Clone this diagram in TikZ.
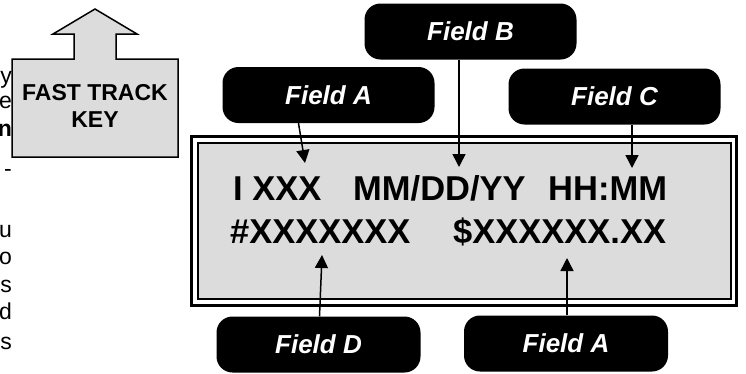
\documentclass[tikz,border=0pt]{standalone}
\usepackage{fontspec}
\setmainfont{Liberation Sans}
\usetikzlibrary{positioning}
\usetikzlibrary{arrows.meta}

\definecolor{lcdgray}{HTML}{DCDCDC}

\tikzset{
    field/.style = {rectangle, rounded corners = 16pt, fill = black, text = white,
        minimum width = 212pt, minimum height = 56pt, inner sep = 0pt,
        font = \fontsize{26}{26}\selectfont\bfseries\itshape},
    lcd/.style = {anchor = base west, inner sep = 0pt,
        font = \fontsize{34.5}{34.5}\selectfont\bfseries},
    pointer/.style = {-{Triangle[width = 13pt, length = 13pt]}, line width = 1.5pt},
    cut/.style = {anchor = base east, inner sep = 0pt,
        font = \fontsize{23}{23}\selectfont}
}

\begin{document}
\begin{tikzpicture}[x = 1pt, y = -1pt]
    \useasboundingbox (0,0) rectangle (746,373);
    % text cut off on the left %
    \begin{scope}
        \clip (0,0) rectangle (12,373);
        \node[cut] (c1) at (12,83) {y};
        \node[cut] (c2) at (12,108) {e};
        \node[cut, font = \fontsize{23}{23}\selectfont\bfseries] (c3) at (12,136) {n};
        \node[cut] (c4) at (12,176) {-};
        \node[cut] (c5) at (12,237) {u};
        \node[cut] (c6) at (12,264) {o};
        \node[cut] (c7) at (12,292) {s};
        \node[cut] (c8) at (12,319) {d};
        \node[cut] (c9) at (12,349) {s};
    \end{scope}
    % fast track key %
    \draw[fill = lcdgray, line width = 1.5pt] (12,157) -- (12,59) -- (74,59) -- (74,34)
        -- (53,34) -- (95,9) -- (137,34) -- (116,34) -- (116,59) -- (178,59)
        -- (178,157) -- cycle;
    \node[align = center, font = \fontsize{23}{27}\selectfont\bfseries] (key) at (95,106) {FAST TRACK\\KEY};
    % display %
    \draw[line width = 3pt] (191.5,136.5) rectangle (736.5,305.5);
    \draw[fill = lcdgray, line width = 2.5pt] (198,143) rectangle (731,299);
    \node[lcd] (id) at (233,200) {I XXX};
    \node[lcd] (date) at (353,200) {MM/DD/YY};
    \node[lcd] (time) at (548,200) {HH:MM};
    \node[lcd] (num) at (230,243) {\#XXXXXXX};
    \node[lcd] (amount) at (453,243) {\$XXXXXX.XX};
    % fields %
    \node[field] (fieldB) at (470.5,31.5) {Field B};
    \node[field] (fieldA) at (328.5,95) {Field A};
    \node[field] (fieldC) at (614.5,96.5) {Field C};
    \node[field, minimum width = 204pt] (fieldD) at (318.5,344.5) {Field D};
    \node[field, minimum width = 204pt] (fieldE) at (566,343.5) {Field A};
    % pointers %
    \coordinate (tipA) at (305,163);
    \coordinate (tipB) at (459,167);
    \coordinate (tipC) at (632,168);
    \coordinate (tipD) at (322,255);
    \coordinate (tipE) at (567,258);
    \draw[pointer] ([xshift = -30pt]fieldA.south) -- (tipA);
    \draw[pointer] (fieldB.south -| tipB) -- (tipB);
    \draw[pointer] (fieldC.south -| tipC) -- (tipC);
    \draw[pointer] ([xshift = 1pt]fieldD.north) -- (tipD);
    \draw[pointer] (fieldE.north -| tipE) -- (tipE);
\end{tikzpicture}
\end{document}
